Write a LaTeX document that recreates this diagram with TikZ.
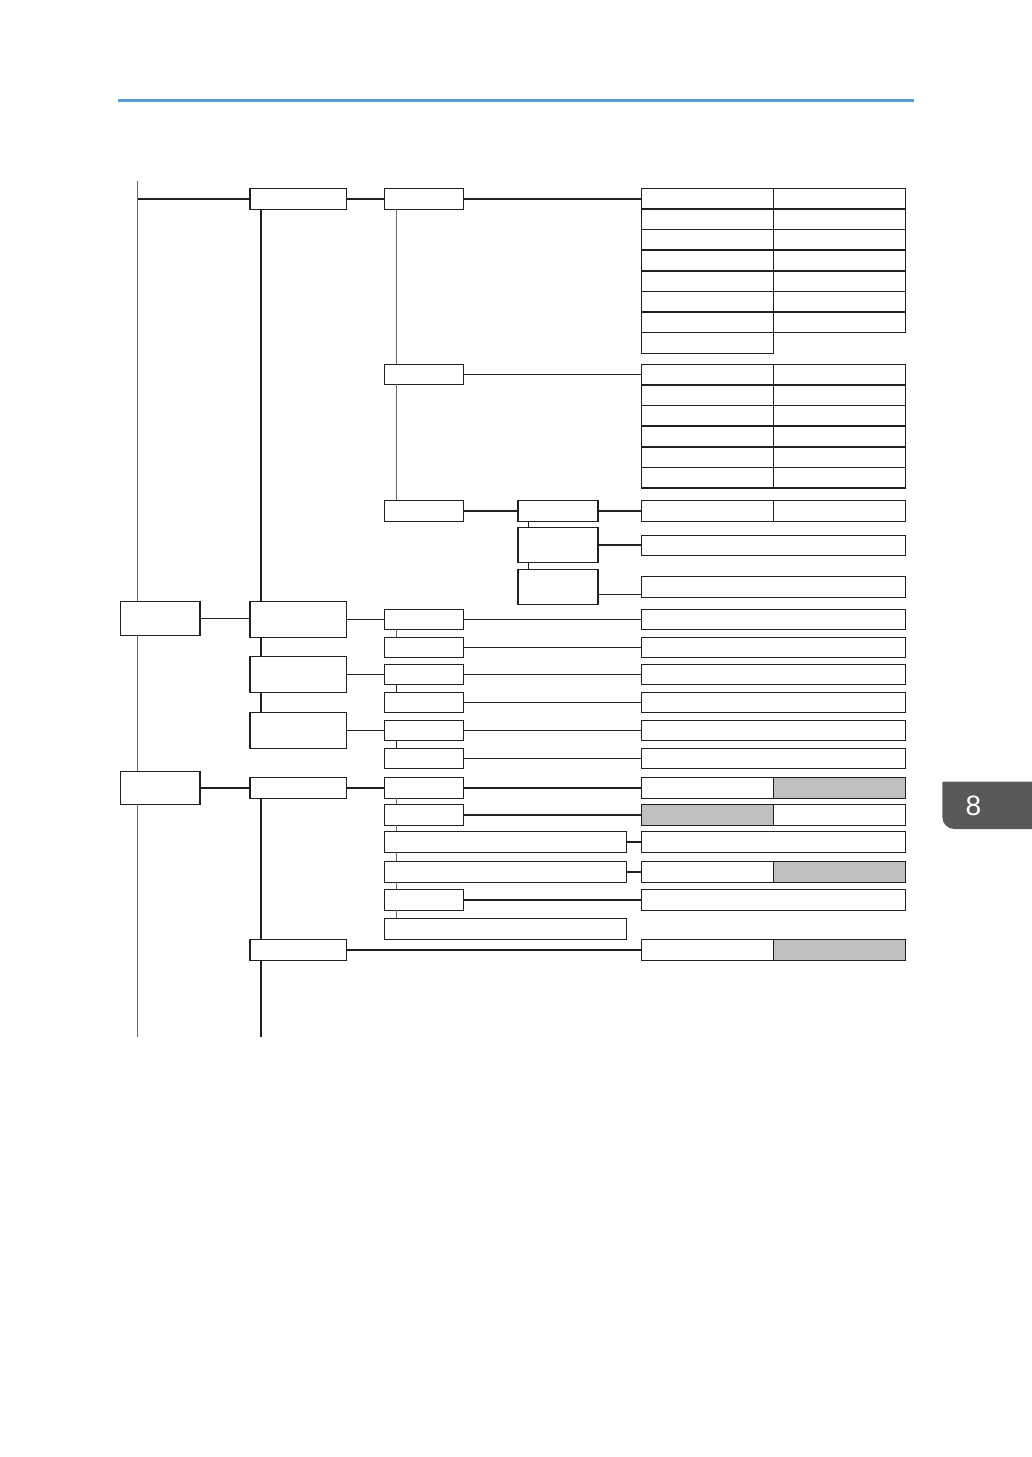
\documentclass[tikz,border=0pt]{standalone}
\usepackage{fontspec}
\newfontfamily\tabfont{Liberation Sans}
\usetikzlibrary{fit}
\definecolor{linec}{HTML}{231F20}
\definecolor{grayline}{HTML}{686868}
\definecolor{cellgray}{HTML}{BFBFBF}
\definecolor{tabgray}{HTML}{58585A}
\definecolor{headblue}{HTML}{5B9BD5}
\tikzset{
  box/.style={draw=linec, line width=1.45pt, inner sep=0pt, outer sep=0pt},
  conn/.style={draw=linec, line width=1.4pt},
  gconn/.style={draw=grayline, line width=1.6pt},
}
\newcommand\mkbox[6][white]{\node[box, fill=#1, fit={(#3,#4) (#5,#6)}] (#2) {};}
\begin{document}
\begin{tikzpicture}[x=1pt,y=-1pt]
\useasboundingbox (0,0) rectangle (1032,1457);
% header rule
\draw[headblue, line width=3pt] (118,100) -- (914,100);
% chapter tab
\fill[tabgray] (1032,781.7) -- (944.3,781.7) .. controls (942.3,781.7) .. (942.3,783.7) -- (942.3,817)
  .. controls (942.3,823.6) and (947.7,829) .. (954.3,829) -- (1032,829) -- cycle;
\node[text=white, font=\tabfont\fontsize{28}{28}\selectfont, inner sep=0pt] (tab8) at (973.5,805.5) {8};

% level 0 boxes
\mkbox{C1}{120.3}{601.3}{200.2}{635.3}
\mkbox{C2}{120.3}{771.3}{200.2}{804.3}
% level 1 boxes
\mkbox{A1}{250}{188.3}{346.6}{209.3}
\mkbox{A2}{250}{601.3}{346.6}{637.3}
\mkbox{A3}{250}{656.3}{346.6}{692.3}
\mkbox{A4}{250}{712.3}{346.6}{748.3}
\mkbox{A5}{250}{777.3}{346.6}{798.3}
\mkbox{A6}{250}{939.3}{346.6}{960.3}
% level 2 boxes (upper)
\mkbox{B1}{384.4}{188.3}{463.6}{209.3}
\mkbox{B2}{384.4}{364.3}{463.6}{384.3}
\mkbox{B3}{384.4}{500.3}{463.6}{521.3}
% level 3 boxes
\mkbox{D1}{518.2}{500.3}{598}{521.3}
\mkbox{D2}{518.2}{527.3}{598}{562.3}
\mkbox{D3}{518.2}{569.3}{598}{604.3}
% middle small boxes
\mkbox{M1}{384.4}{609.3}{463.6}{629.3}
\mkbox{M2}{384.4}{637.3}{463.6}{657.3}
\mkbox{M3}{384.4}{664.3}{463.6}{684.3}
\mkbox{M4}{384.4}{692.3}{463.6}{712.3}
\mkbox{M5}{384.4}{720.3}{463.6}{740.3}
\mkbox{M6}{384.4}{748.3}{463.6}{768.3}
% lower boxes
\mkbox{E1}{384.4}{777.3}{463.6}{798.3}
\mkbox{E2}{384.4}{804.3}{463.6}{825.3}
\mkbox{E3}{384.4}{831.3}{626.5}{852.3}
\mkbox{E4}{384.4}{861.3}{626.5}{882.3}
\mkbox{E5}{384.4}{889.3}{463.6}{910.3}
\mkbox{E6}{384.4}{918.3}{626.5}{939.3}

% table 1
\foreach \i in {0,...,7}{
  \pgfmathsetmacro\ya{188.3+20.625*\i}
  \pgfmathsetmacro\yb{\ya+20.625}
  \mkbox{t1l\i}{641.3}{\ya}{773.3}{\yb}
}
\foreach \i in {0,...,6}{
  \pgfmathsetmacro\ya{188.3+20.625*\i}
  \pgfmathsetmacro\yb{\ya+20.625}
  \mkbox{t1r\i}{773.3}{\ya}{905.5}{\yb}
}
% table 2
\foreach \i in {0,...,5}{
  \pgfmathsetmacro\ya{364.3+20.62*\i}
  \pgfmathsetmacro\yb{\ya+20.62}
  \mkbox{t2l\i}{641.3}{\ya}{773.3}{\yb}
  \mkbox{t2r\i}{773.3}{\ya}{905.5}{\yb}
}
% D rows
\mkbox{dl}{641.3}{500.3}{773.3}{521.3}
\mkbox{dr}{773.3}{500.3}{905.5}{521.3}
\mkbox{W1}{641.3}{535.3}{905.5}{555.3}
\mkbox{W2}{641.3}{576.3}{905.5}{597.3}
% middle wide boxes
\mkbox{R1}{641.3}{609.3}{905.5}{629.3}
\mkbox{R2}{641.3}{637.3}{905.5}{657.3}
\mkbox{R3}{641.3}{664.3}{905.5}{684.3}
\mkbox{R4}{641.3}{692.3}{905.5}{712.3}
\mkbox{R5}{641.3}{720.3}{905.5}{740.3}
\mkbox{R6}{641.3}{748.3}{905.5}{768.3}
% lower right cells
\mkbox{s1l}{641.3}{777.3}{773.3}{798.3}
\mkbox[cellgray]{s1r}{773.3}{777.3}{905.5}{798.3}
\mkbox[cellgray]{s2l}{641.3}{804.3}{773.3}{825.3}
\mkbox{s2r}{773.3}{804.3}{905.5}{825.3}
\mkbox{S3}{641.3}{831.3}{905.5}{852.3}
\mkbox{s4l}{641.3}{861.3}{773.3}{882.3}
\mkbox[cellgray]{s4r}{773.3}{861.3}{905.5}{882.3}
\mkbox{S5}{641.3}{889.3}{905.5}{910.3}
\mkbox{s6l}{641.3}{939.3}{773.3}{960.3}
\mkbox[cellgray]{s6r}{773.3}{939.3}{905.5}{960.3}

% free ends
\coordinate (L0t) at (137.5,181);
\coordinate (L0b) at (137.5,1037);
\coordinate (Ab) at (261,1037);

% level 0 vertical line
\draw[gconn] (L0t) -- (L0t |- C1.north);
\draw[gconn] (L0t |- C1.south) -- (L0t |- C2.north);
\draw[gconn] (L0t |- C2.south) -- (L0b);

% horizontal connectors
\draw[conn] (A1.west -| L0t) -- (A1.west);
\draw[conn] (A1.east) -- (B1.west);
\draw[conn] (B1.east) -- (B1.east -| t1l0.west);
\draw[conn] (B2.east) -- (B2.east -| t2l0.west);
\draw[conn] (B3.east) -- (D1.west);
\draw[conn] (D1.east) -- (dl.west);
\draw[conn] (D2.east) -- (D2.east -| W1.west);
\draw[conn] ([yshift=-7.5pt]D3.east) -- ([yshift=-7.5pt]D3.east -| W2.west);
\draw[conn] (C1.east) -- (C1.east -| A2.west);
\draw[conn] (A2.east) -- (A2.east -| M1.west);
\draw[conn] (A3.east) -- (M3.west);
\draw[conn] (A4.east) -- (M5.west);
\draw[conn] (M1.east) -- (R1.west);
\draw[conn] (M2.east) -- (R2.west);
\draw[conn] (M3.east) -- (R3.west);
\draw[conn] (M4.east) -- (R4.west);
\draw[conn] (M5.east) -- (R5.west);
\draw[conn] (M6.east) -- (R6.west);
\draw[conn] (C2.east) -- (C2.east -| A5.west);
\draw[conn] (A5.east) -- (E1.west);
\draw[conn] (E1.east) -- (s1l.west);
\draw[conn] (E2.east) -- (s2l.west);
\draw[conn] (E3.east) -- (S3.west);
\draw[conn] (E4.east) -- (s4l.west);
\draw[conn] (E5.east) -- (S5.west);
\draw[conn] (A6.east) -- (s6l.west);

% vertical connectors, level 1 (x=261)
\draw[conn] ([xshift=11pt]A1.south west) -- ([xshift=11pt]A2.north west);
\draw[conn] ([xshift=11pt]A2.south west) -- ([xshift=11pt]A3.north west);
\draw[conn] ([xshift=11pt]A3.south west) -- ([xshift=11pt]A4.north west);
\draw[conn] ([xshift=11pt]A5.south west) -- ([xshift=11pt]A6.north west);
\draw[conn] ([xshift=11pt]A6.south west) -- (Ab);

% vertical connectors, level 2 (x=396)
\draw[gconn] ([xshift=12pt]B1.south west) -- ([xshift=12pt]B2.north west);
\draw[gconn] ([xshift=12pt]B2.south west) -- ([xshift=12pt]B3.north west);
\draw[gconn] ([xshift=12pt]M1.south west) -- ([xshift=12pt]M2.north west);
\draw[conn] ([xshift=12pt]M3.south west) -- ([xshift=12pt]M4.north west);
\draw[conn] ([xshift=12pt]M5.south west) -- ([xshift=12pt]M6.north west);
\draw[gconn] ([xshift=12pt]E1.south west) -- ([xshift=12pt]E2.north west);
\draw[gconn] ([xshift=12pt]E2.south west) -- ([xshift=12pt]E3.north west);
\draw[gconn] ([xshift=12pt]E3.south west) -- ([xshift=12pt]E4.north west);
\draw[gconn] ([xshift=12pt]E4.south west) -- ([xshift=12pt]E5.north west);
\draw[gconn] ([xshift=12pt]E5.south west) -- ([xshift=12pt]E6.north west);

% vertical connectors, level 3 (x=528)
\draw[conn] ([xshift=10pt]D1.south west) -- ([xshift=10pt]D2.north west);
\draw[conn] ([xshift=10pt]D2.south west) -- ([xshift=10pt]D3.north west);
\end{tikzpicture}
\end{document}
